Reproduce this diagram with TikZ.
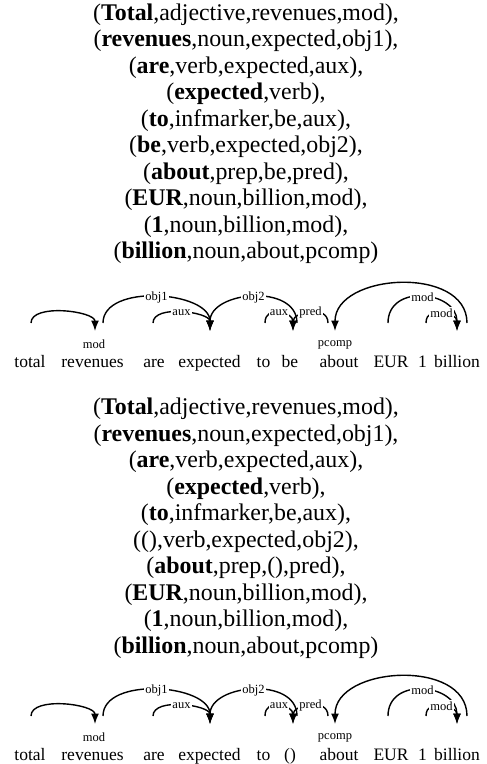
\documentclass[tikz,border=0pt]{standalone}
\usepackage{fontspec}
\setmainfont{Liberation Serif}
\usetikzlibrary{arrows.meta}

% One dependency parse: #1 name prefix, #2 vertical shift, #3 sixth word
\newcommand\parsediagram[3]{%
  \begin{scope}[yshift=#2]
    % words
    \node[word] (#1-w1)  at (30,367)  {total};
    \node[word] (#1-w2)  at (92.5,367) {revenues};
    \node[word] (#1-w3)  at (154,367) {are};
    \node[word] (#1-w4)  at (209.5,367) {expected};
    \node[word] (#1-w5)  at (263.5,367) {to};
    \node[word] (#1-w6)  at (290,367) {#3};
    \node[word] (#1-w7)  at (339,367) {about};
    \node[word] (#1-w8)  at (391,367) {EUR};
    \node[word] (#1-w9)  at (422.5,367) {1};
    \node[word] (#1-w10) at (457,367) {billion};
    % arc end points above the words (o: outgoing, i: incoming)
    \coordinate (#1-o1)  at (31,323);
    \coordinate (#1-i2)  at (95,331);
    \coordinate (#1-o2)  at (103,323);
    \coordinate (#1-o3)  at (153,323);
    \coordinate (#1-i4)  at (210,331);
    \coordinate (#1-o5)  at (265,323);
    \coordinate (#1-i6)  at (293,331);
    \coordinate (#1-o6)  at (297,323);
    \coordinate (#1-o7)  at (328,323);
    \coordinate (#1-i7)  at (335,331);
    \coordinate (#1-o8)  at (388,323);
    \coordinate (#1-o9)  at (426,323);
    \coordinate (#1-i10) at (457,331);
    \coordinate (#1-o10) at (467,323);
    % arcs, dependent to head
    \draw[dep] (#1-o1) .. controls +(0,-20) and +(0,-20) .. (#1-i2);
    \draw[dep] (#1-o2) .. controls +(0,-40) and +(0,-40) .. (#1-i4) node[rel,midway] (#1-obj1) {obj1};
    \draw[dep] (#1-o6) .. controls +(0,-40) and +(0,-40) .. (#1-i4) node[rel,midway] (#1-obj2) {obj2};
    \draw[dep] (#1-o10) .. controls +(0,-58) and +(0,-58) .. (#1-i7);
    \draw[dep] (#1-o8) .. controls +(0,-40) and +(0,-40) .. (#1-i10) node[rel,midway] (#1-mod1) {mod};
    \draw[dep] (#1-o3) .. controls +(0,-19) and +(0,-19) .. (#1-i4) node[rel,midway] (#1-aux1) {aux};
    \draw[dep] (#1-o5) .. controls +(0,-19) and +(0,-19) .. (#1-i6) node[rel,midway] (#1-aux2) {aux};
    \draw[dep] (#1-o7) .. controls +(0,-19) and +(0,-19) .. (#1-i6) node[rel,midway] (#1-pred) {pred};
    \draw[dep] (#1-o9) .. controls +(0,-19) and +(0,-19) .. (#1-i10) node[rel,midway] (#1-mod2) {mod};
    % labels set below the arrow heads
    \node[rel] (#1-mod0)  at (94,344)  {mod};
    \node[rel] (#1-pcomp) at (335,345) {pcomp};
  \end{scope}}

\begin{document}
\begin{tikzpicture}[x=1pt,y=-1pt,
  tuple/.style={anchor=base,inner sep=0pt,font=\fontsize{23.9}{26.5}\selectfont},
  word/.style={anchor=base,inner sep=0pt,font=\fontsize{17.5}{20}\selectfont},
  rel/.style={fill=white,inner sep=1pt,font=\fontsize{12.5}{13}\selectfont},
  dep/.style={line width=1.4pt,-{Latex[length=10.5pt,width=8pt]}}]
  \useasboundingbox (0,0) rectangle (487,764);

  % first parse, as tuples
  \foreach \t [count=\k from 0] in {
    {(\textbf{Total},adjective,revenues,mod),},
    {(\textbf{revenues},noun,expected,obj1),},
    {(\textbf{are},verb,expected,aux),},
    {(\textbf{expected},verb),},
    {(\textbf{to},infmarker,be,aux),},
    {(\textbf{be},verb,expected,obj2),},
    {(\textbf{about},prep,be,pred),},
    {(\textbf{EUR},noun,billion,mod),},
    {(\textbf{1},noun,billion,mod),},
    {(\textbf{billion},noun,about,pcomp)}}
    \node[tuple] (a\k) at (246,20+26.5*\k) {\t};

  \parsediagram{p}{0pt}{be}

  % second parse, with the empty verb
  \foreach \t [count=\k from 0] in {
    {(\textbf{Total},adjective,revenues,mod),},
    {(\textbf{revenues},noun,expected,obj1),},
    {(\textbf{are},verb,expected,aux),},
    {(\textbf{expected},verb),},
    {(\textbf{to},infmarker,be,aux),},
    {((),verb,expected,obj2),},
    {(\textbf{about},prep,(),pred),},
    {(\textbf{EUR},noun,billion,mod),},
    {(\textbf{1},noun,billion,mod),},
    {(\textbf{billion},noun,about,pcomp)}}
    \node[tuple] (b\k) at (246,414.5+26.5*\k) {\t};

  \parsediagram{q}{-393pt}{()}
\end{tikzpicture}
\end{document}
